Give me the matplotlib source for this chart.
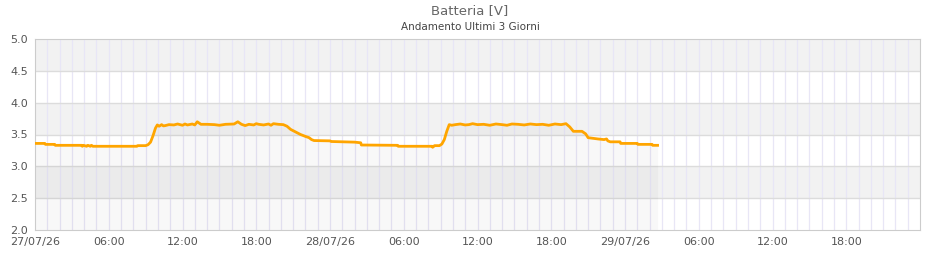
import numpy as np
import matplotlib
matplotlib.use("Agg")
from matplotlib import pyplot as plt

# ore dall'inizio del 27/07/26, tensione batteria [V]
ore = [0.0, 0.8, 0.85, 1.6, 1.65, 3.8, 3.85, 3.95, 4.2, 4.3, 4.5, 4.6, 4.7,
       8.3, 8.35, 9.0, 9.2, 9.4, 9.6, 9.8, 9.95, 10.1, 10.3, 10.45, 10.6, 10.9,
       11.3, 11.6, 12.0, 12.2, 12.4, 12.8, 13.0, 13.2, 13.5, 14.0, 14.6, 15.0, 15.5, 16.2,
       16.5, 16.8, 17.1, 17.4, 17.8, 18.0, 18.2, 18.6, 19.0, 19.2, 19.4, 19.8, 20.2,
       20.5, 20.8, 21.2, 21.6, 22.0, 22.3, 22.5, 22.7, 24.0, 24.1, 26.0,
       26.5, 26.55, 29.5, 29.55, 32.3, 32.35, 32.45, 32.5, 32.9, 33.1, 33.3,
       33.5, 33.7, 33.9, 34.2, 34.6, 35.0, 35.3, 35.6, 36.0, 36.5, 37.0,
       37.5, 38.0, 38.4, 38.8, 39.3, 39.8, 40.3, 40.8, 41.3, 41.8, 42.3,
       42.8, 43.2, 43.5, 43.8, 44.5, 44.8, 45.0, 45.8, 46.3, 46.5, 46.6,
       46.8, 47.6, 47.65, 49.0, 49.05, 50.2, 50.25, 50.65]
volt = [3.36, 3.36, 3.345, 3.345, 3.33, 3.33, 3.315, 3.33, 3.315, 3.33, 3.315, 3.33, 3.315,
        3.315, 3.325, 3.325, 3.34, 3.38, 3.48, 3.60, 3.65, 3.63, 3.655, 3.635, 3.64, 3.655,
        3.65, 3.665, 3.645, 3.665, 3.65, 3.665, 3.65, 3.70, 3.66, 3.66, 3.655, 3.645, 3.66, 3.665,
        3.70, 3.66, 3.64, 3.66, 3.65, 3.67, 3.66, 3.65, 3.665, 3.645, 3.67, 3.66, 3.655,
        3.63, 3.58, 3.54, 3.50, 3.47, 3.45, 3.42, 3.405, 3.40, 3.39, 3.38,
        3.37, 3.335, 3.33, 3.315, 3.315, 3.30, 3.315, 3.325, 3.325, 3.35, 3.42,
        3.55, 3.655, 3.645, 3.655, 3.665, 3.65, 3.655, 3.67, 3.655, 3.66, 3.645,
        3.665, 3.655, 3.645, 3.665, 3.66, 3.65, 3.665, 3.655, 3.66, 3.645, 3.665,
        3.655, 3.67, 3.62, 3.55, 3.55, 3.51, 3.45, 3.43, 3.42, 3.43, 3.40,
        3.385, 3.385, 3.36, 3.36, 3.345, 3.345, 3.33, 3.33]

tick_ore = [0, 6, 12, 18, 24, 30, 36, 42, 48, 54, 60, 66]
tick_lab = ['27/07/26', '06:00', '12:00', '18:00', '28/07/26', '06:00', '12:00',
            '18:00', '29/07/26', '06:00', '12:00', '18:00']

fig = plt.figure(figsize=(9.4, 2.6), dpi=100)
ax = fig.add_axes([35/940, 30/260, 885/940, 191/260])

# bande orizzontali alternate
for lo in [2.5, 3.5, 4.5]:
    ax.axhspan(lo, lo + 0.5, color='#f2f2f2', lw=0, zorder=0)
for x in range(1, 72):
    ax.axvline(x, color='#e8e6f6', lw=0.9, zorder=1)
for y in [2.5, 3.0, 3.5, 4.0, 4.5]:
    ax.axhline(y, color='#dcdcdc', lw=1, zorder=1)

ax.fill_between(ore, volt, 2.0, color='black', alpha=0.028, lw=0, zorder=2)
ax.plot(ore, volt, color='#FFA500', lw=2.0, zorder=3)

ax.set_xlim(0, 72)
ax.set_ylim(2.0, 5.0)
ax.set_xticks(tick_ore)
ax.set_xticklabels(tick_lab)
ax.set_yticks([2.0, 2.5, 3.0, 3.5, 4.0, 4.5, 5.0])
ax.set_yticklabels(['2.0', '2.5', '3.0', '3.5', '4.0', '4.5', '5.0'])
ax.tick_params(length=0, labelsize=8, colors='#555555', pad=5)
for s in ax.spines.values():
    s.set_color('#cccccc')

fig.text(0.5, 1 - 11/260, 'Batteria [V]', ha='center', va='center', fontsize=9.5, color='#666666')
fig.text(0.5, 1 - 27/260, 'Andamento Ultimi 3 Giorni', ha='center', va='center', fontsize=7.5, color='#444444')

fig.savefig('out.png', dpi=100)
